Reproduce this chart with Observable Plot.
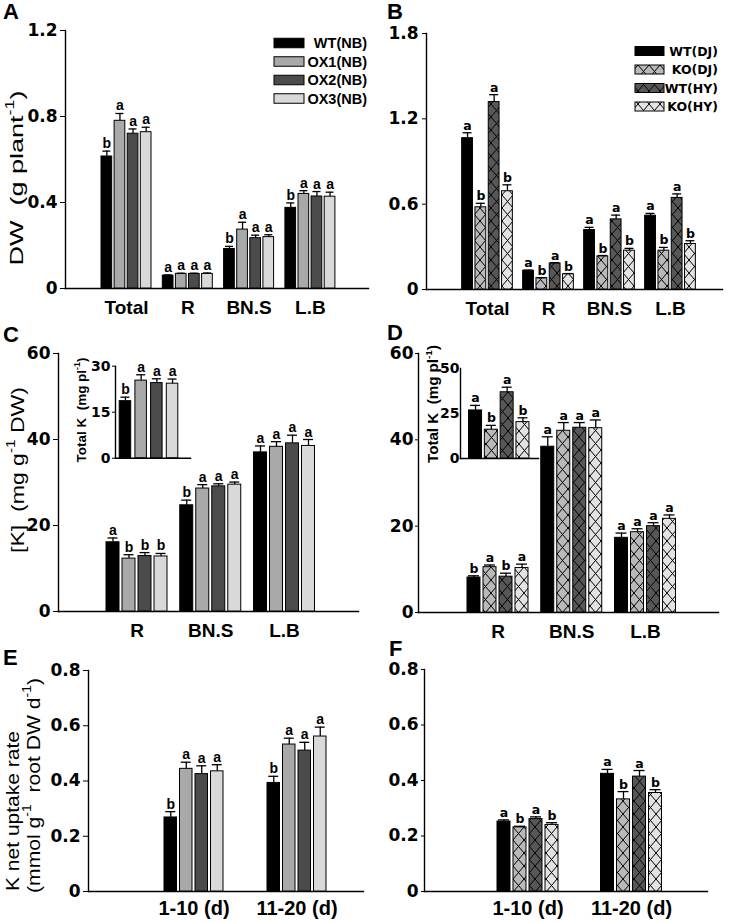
<!DOCTYPE html>
<html>
<head>
<meta charset="utf-8">
<script src="https://cdn.jsdelivr.net/npm/d3@7"></script>
<script src="https://cdn.jsdelivr.net/npm/@observablehq/plot@0.6"></script>
<style>
  html, body { margin: 0; padding: 0; background: #fff; }
  #fig { position: relative; width: 735px; height: 922px; overflow: hidden; background: #fff; }
  #fig > svg { position: absolute; }
</style>
</head>
<body>
<svg width="0" height="0" style="position:absolute;left:0;top:0">
  <defs>
    <pattern id="hatch-ko-dj" patternUnits="userSpaceOnUse" width="11" height="13">
      <rect width="11" height="13" fill="#b9b9b9"/>
      <path d="M0,0L11,13M11,0L0,13" stroke="#000" stroke-width="1"/>
    </pattern>
    <pattern id="hatch-wt-hy" patternUnits="userSpaceOnUse" width="11" height="13">
      <rect width="11" height="13" fill="#575757"/>
      <path d="M0,0L11,13M11,0L0,13" stroke="#000" stroke-width="1"/>
    </pattern>
    <pattern id="hatch-ko-hy" patternUnits="userSpaceOnUse" width="11" height="13">
      <rect width="11" height="13" fill="#e3e3e3"/>
      <path d="M0,0L11,13M11,0L0,13" stroke="#000" stroke-width="1"/>
    </pattern>
  </defs>
</svg>
<div id="fig"></div>
<script>
// ===================== DATA =====================
// Panel A : dry weight, overexpression lines (NB background)
const catsA = ["Total", "R", "BN.S", "L.B"];
const seriesA = ["WT(NB)", "OX1(NB)", "OX2(NB)", "OX3(NB)"];
const valA = [[0.614, 0.780, 0.720, 0.727], [0.060, 0.068, 0.068, 0.068], [0.184, 0.274, 0.234, 0.239], [0.375, 0.440, 0.428, 0.427]];
const errA = [[0.025, 0.034, 0.022, 0.023], [0.003, 0.003, 0.003, 0.004], [0.012, 0.034, 0.014, 0.011], [0.023, 0.015, 0.023, 0.021]];
const sigA = [["b", "a", "a", "a"], ["a", "a", "a", "a"], ["b", "a", "a", "a"], ["b", "a", "a", "a"]];
const yTicksA = [0, 0.4, 0.8, 1.2];

// Panel B : dry weight, knockout lines (DJ / HY)
const catsB = ["Total", "R", "BN.S", "L.B"];
const seriesB = ["WT(DJ)", "KO(DJ)", "WT(HY)", "KO(HY)"];
const valB = [[1.064, 0.578, 1.318, 0.691], [0.132, 0.080, 0.183, 0.108], [0.418, 0.233, 0.493, 0.273], [0.519, 0.273, 0.644, 0.320]];
const errB = [[0.038, 0.028, 0.052, 0.045], [0.004, 0.003, 0.006, 0.004], [0.019, 0.006, 0.030, 0.016], [0.016, 0.023, 0.028, 0.023]];
const sigB = [["a", "b", "a", "b"], ["a", "b", "a", "b"], ["a", "b", "a", "b"], ["a", "b", "a", "b"]];
const yTicksB = [0, 0.6, 1.2, 1.8];

// Panel C : [K] per organ (NB lines) + inset total K
const catsC = ["R", "BN.S", "L.B"];
const valC = [[16.1, 12.3, 12.9, 12.8], [24.7, 28.6, 29.1, 29.5], [37.0, 38.3, 39.1, 38.5]];
const errC = [[1.0, 0.9, 0.8, 0.7], [1.2, 0.9, 0.6, 0.6], [1.5, 1.2, 1.9, 1.5]];
const sigC = [["a", "b", "b", "b"], ["b", "a", "a", "a"], ["a", "a", "a", "a"]];
const yTicksC = [0, 20, 40, 60];
const valCin = [[18.6, 25.3, 24.5, 24.3]];
const errCin = [[1.3, 1.9, 1.4, 1.5]];
const sigCin = [["b", "a", "a", "a"]];
const yTicksCin = [0, 15, 30];

// Panel D : [K] per organ (KO lines) + inset total K
const catsD = ["R", "BN.S", "L.B"];
const valD = [[8.1, 10.5, 8.3, 10.3], [38.4, 42.1, 42.8, 42.7], [17.3, 18.6, 20.0, 21.7]];
const errD = [[0.4, 0.5, 0.8, 0.9], [2.3, 1.9, 1.2, 1.9], [1.1, 0.8, 0.8, 0.9]];
const sigD = [["b", "a", "b", "a"], ["a", "a", "a", "a"], ["a", "a", "a", "a"]];
const yTicksD = [0, 20, 40, 60];
const valDin = [[26.7, 16.0, 36.8, 20.2]];
const errDin = [[2.8, 2.4, 2.8, 2.4]];
const sigDin = [["a", "b", "a", "b"]];
const yTicksDin = [0, 25, 50];

// Panel E : K net uptake rate (NB lines)
const catsE = ["1-10 (d)", "11-20 (d)"];
const valE = [[0.268, 0.444, 0.425, 0.435], [0.393, 0.532, 0.510, 0.561]];
const errE = [[0.021, 0.024, 0.030, 0.024], [0.024, 0.023, 0.030, 0.034]];
const sigE = [["b", "a", "a", "a"], ["b", "a", "a", "a"]];
const yTicksE = [0, 0.2, 0.4, 0.6, 0.8];

// Panel F : K net uptake rate (KO lines)
const catsF = ["1-10 (d)", "11-20 (d)"];
const valF = [[0.252, 0.231, 0.261, 0.240], [0.424, 0.332, 0.414, 0.355]];
const errF = [[0.006, 0.004, 0.008, 0.008], [0.016, 0.028, 0.022, 0.012]];
const sigF = [["a", "b", "a", "b"], ["a", "b", "a", "b"]];
const yTicksF = [0, 0.2, 0.4, 0.6, 0.8];

// Text labels
const panelLetters = ["A", "B", "C", "D", "E", "F"];
const titleA = ["DW  (g plant", ["-1"], ")"];
const titleC = ["[K]  (mg g", ["-1"], " DW)"];
const titleE1 = ["K net uptake rate"];
const titleE2 = ["(mmol g", ["-1"], "  root DW d", ["-1"], ")"];
const titleInset = ["Total K  (mg pl", ["-1"], ")"];

// ===================== STYLE =====================
const FONT_AR = "'Liberation Sans', Arial, sans-serif";
const FONT_DV = "'DejaVu Sans', Verdana, sans-serif";
const grayFills = ["#000000", "#a9a9a9", "#4b4b4b", "#d9d9d9"];
const hatchFills = ["#000000", "url(#hatch-ko-dj)", "url(#hatch-wt-hy)", "url(#hatch-ko-hy)"];

const fig = document.getElementById("fig");

function barPanel(o) {
  const rows = [];
  o.vals.forEach((arr, ci) => arr.forEach((v, si) => rows.push({ci, si, v, e: o.errs[ci][si], t: o.sigs[ci][si]})));
  const ns = o.vals[0].length;
  const bs = o.barStep / o.step, hw = o.barW / 2 / o.step, cw = o.capW / 2 / o.step;
  const xc = d => d.ci + (d.si - (ns - 1) / 2) * bs;
  const topv = d => d.v + d.e;
  const marks = [];
  for (let si = 0; si < ns; si++) {
    marks.push(Plot.rect(rows.filter(d => d.si === si), {
      x1: d => xc(d) - hw, x2: d => xc(d) + hw, y1: 0, y2: "v",
      fill: o.fills[si], stroke: "#000", strokeWidth: 1
    }));
  }
  marks.push(Plot.ruleX(rows, {x: xc, y1: "v", y2: topv, stroke: "#000", strokeWidth: 1.3}));
  marks.push(Plot.ruleY(rows, {y: topv, x1: d => xc(d) - cw, x2: d => xc(d) + cw, stroke: "#000", strokeWidth: 1.3}));
  marks.push(Plot.text(rows, {
    x: xc, y: topv, text: "t", dy: -3, lineAnchor: "bottom",
    fontSize: o.sigSize, fontWeight: "bold", fontFamily: o.sigFont, fill: "#000"
  }));
  const svg = Plot.plot({
    width: o.w, height: o.h,
    marginLeft: o.axisX - o.left, marginRight: o.left + o.w - o.xEnd,
    marginTop: o.yTop - o.top, marginBottom: o.top + o.h - o.y0,
    style: {background: "transparent", overflow: "visible", color: "#000", fontFamily: FONT_AR},
    x: {
      domain: [(o.axisX - o.c0) / o.step, (o.xEnd - o.c0) / o.step],
      ticks: o.cats ? o.cats.map((_, i) => i) : [],
      tickFormat: i => (o.cats ? o.cats[i] : ""),
      tickSize: 0, tickPadding: o.xPad || 12, line: true, label: null
    },
    y: {
      domain: o.yDomain, ticks: o.yTicks, tickFormat: d => String(d),
      tickSize: o.tickSize, tickPadding: o.tickPad, line: true, label: null
    },
    marks
  });
  svg.style.left = o.left + "px";
  svg.style.top = o.top + "px";
  const s = d3.select(svg);
  s.selectAll('[aria-label^="y-axis"]').style("font-family", FONT_DV).style("font-size", o.ySize + "px").style("font-weight", "bold");
  s.selectAll('[aria-label^="x-axis"]').style("font-family", FONT_AR).style("font-size", (o.xSize || 19) + "px").style("font-weight", "bold");
  s.selectAll('[aria-label$="line"], [aria-label^="frame"], .domain').attr("stroke-width", 1.4);
  fig.appendChild(svg);
}

// Panel A
barPanel({cats: catsA, vals: valA, errs: errA, sigs: sigA, fills: grayFills,
  left: 0, top: 0, w: 370, h: 320, axisX: 65, xEnd: 368, yTop: 30, y0: 288,
  c0: 126, step: 61.3, barStep: 13.1, barW: 10.7, capW: 8,
  yDomain: [0, 1.2], yTicks: yTicksA, tickSize: 5, tickPad: 3, ySize: 17,
  sigSize: 14, sigFont: FONT_AR});
// Panel B
barPanel({cats: catsB, vals: valB, errs: errB, sigs: sigB, fills: hatchFills,
  left: 370, top: 0, w: 365, h: 320, axisX: 426, xEnd: 722, yTop: 33, y0: 289,
  c0: 487, step: 61, barStep: 13.3, barW: 10.8, capW: 9,
  yDomain: [0, 1.8], yTicks: yTicksB, tickSize: 4, tickPad: 4, ySize: 17,
  sigSize: 12.5, sigFont: FONT_DV});
// Panel C
barPanel({cats: catsC, vals: valC, errs: errC, sigs: sigC, fills: grayFills,
  left: 0, top: 320, w: 370, h: 325, axisX: 58, xEnd: 358, yTop: 353, y0: 611,
  c0: 136.5, step: 73.75, barStep: 16, barW: 13, capW: 10,
  yDomain: [0, 60], yTicks: yTicksC, tickSize: 5, tickPad: 3, ySize: 17,
  sigSize: 14, sigFont: FONT_AR});
// Panel C inset
barPanel({cats: null, vals: valCin, errs: errCin, sigs: sigCin, fills: grayFills,
  left: 60, top: 340, w: 140, h: 140, axisX: 115, xEnd: 190, yTop: 365.7, y0: 457.7,
  c0: 148.5, step: 100, barStep: 15.7, barW: 11.5, capW: 9,
  yDomain: [0, 30], yTicks: yTicksCin, tickSize: 3, tickPad: 2, ySize: 14,
  sigSize: 14, sigFont: FONT_AR});
// Panel D
barPanel({cats: catsD, vals: valD, errs: errD, sigs: sigD, fills: hatchFills,
  left: 370, top: 320, w: 365, h: 325, axisX: 418, xEnd: 718, yTop: 353, y0: 612,
  c0: 497.5, step: 73.75, barStep: 16, barW: 13, capW: 11,
  yDomain: [0, 60], yTicks: yTicksD, tickSize: 3, tickPad: 2, ySize: 17,
  sigSize: 12.5, sigFont: FONT_DV});
// Panel D inset
barPanel({cats: null, vals: valDin, errs: errDin, sigs: sigDin, fills: hatchFills,
  left: 420, top: 340, w: 125, h: 140, axisX: 460, xEnd: 538, yTop: 368, y0: 458,
  c0: 498.75, step: 100, barStep: 15.8, barW: 13, capW: 10,
  yDomain: [0, 50], yTicks: yTicksDin, tickSize: 0, tickPad: 1, ySize: 14,
  sigSize: 12.5, sigFont: FONT_DV});
// Panel E
barPanel({cats: catsE, vals: valE, errs: errE, sigs: sigE, fills: grayFills,
  left: 0, top: 645, w: 370, h: 277, axisX: 88, xEnd: 363, yTop: 670, y0: 891,
  c0: 193.5, step: 103, barStep: 15.5, barW: 12.5, capW: 10,
  yDomain: [0, 0.8], yTicks: yTicksE, tickSize: 5, tickPad: 3, ySize: 17, xSize: 20, xPad: 9,
  sigSize: 14, sigFont: FONT_AR});
// Panel F
barPanel({cats: catsF, vals: valF, errs: errF, sigs: sigF, fills: hatchFills,
  left: 370, top: 645, w: 365, h: 277, axisX: 424, xEnd: 707, yTop: 669, y0: 891,
  c0: 527.5, step: 103.5, barStep: 16, barW: 13, capW: 11,
  yDomain: [0, 0.8], yTicks: yTicksF, tickSize: 3, tickPad: 3, ySize: 17, xSize: 20, xPad: 9,
  sigSize: 12.5, sigFont: FONT_DV});

// ===================== OVERLAY: letters, titles, legends =====================
const overlay = d3.select(fig).append("svg")
  .attr("width", 735).attr("height", 922)
  .style("left", "0px").style("top", "0px").style("pointer-events", "none");

function addRich(t, parts, size) {
  let shifted = false;
  const sh = size * 0.3;
  parts.forEach(p => {
    if (Array.isArray(p)) {
      t.append("tspan").attr("dy", -sh).attr("font-size", size * 0.66).text(p[0]);
      shifted = true;
    } else {
      const ts = t.append("tspan").text(p);
      if (shifted) { ts.attr("dy", sh); shifted = false; }
    }
  });
}
function vTitle(x, y, anchor, parts, size, weight, len) {
  const t = overlay.append("text")
    .attr("transform", `translate(${x},${y}) rotate(-90)`)
    .attr("text-anchor", anchor).attr("dominant-baseline", "central")
    .attr("font-family", FONT_AR).attr("font-size", size).attr("font-weight", weight)
    .style("white-space", "pre").attr("fill", "#000");
  addRich(t, parts, size);
  if (len) t.attr("textLength", len).attr("lengthAdjust", "spacingAndGlyphs");
}

// panel letters
const letterPos = [[3, 19], [387, 19], [3, 342], [387, 340], [3, 665], [389, 656]];
panelLetters.forEach((L, i) => {
  overlay.append("text").attr("x", letterPos[i][0]).attr("y", letterPos[i][1])
    .attr("font-family", FONT_AR).attr("font-weight", "bold").attr("font-size", 22).attr("fill", "#000").text(L);
});

// axis titles
vTitle(16, 178, "middle", titleA, 19, "normal", 175);
vTitle(17, 470, "middle", titleC, 19, "normal", 166);
vTitle(12, 891, "start", titleE1, 19, "normal", 160);
vTitle(33, 893, "start", titleE2, 19, "normal", 215);
vTitle(81, 410, "middle", titleInset, 13.5, "bold", 105);
vTitle(433, 404, "middle", titleInset, 14, "bold", 118);

// legends
function legend(labels, fills, sx, sw, sh, ys, tx, size, family) {
  labels.forEach((lab, i) => {
    overlay.append("rect").attr("x", sx).attr("y", ys[i] - sh / 2).attr("width", sw).attr("height", sh)
      .attr("fill", fills[i]).attr("stroke", "#000").attr("stroke-width", 1);
    overlay.append("text").attr("x", tx).attr("y", ys[i]).attr("dominant-baseline", "central")
      .attr("text-anchor", "end").attr("font-family", family).attr("font-weight", "bold")
      .attr("font-size", size).attr("fill", "#000").text(lab);
  });
}
legend(seriesA, grayFills, 274, 30, 9.5, [43, 61.5, 80, 98.5], 367, 14.5, FONT_AR);
legend(seriesB, hatchFills, 635, 29, 9, [51, 69.5, 88, 106.5], 718, 12.5, FONT_DV);
</script>
</body>
</html>
